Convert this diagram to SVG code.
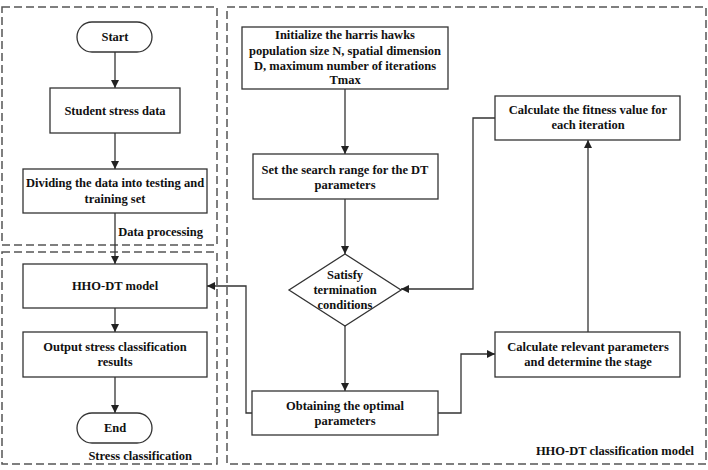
<svg xmlns="http://www.w3.org/2000/svg" width="708" height="470" viewBox="0 0 708 470">
<defs>
<marker id="ah" viewBox="0 0 10 10" refX="10" refY="5" markerWidth="8" markerHeight="8" markerUnits="userSpaceOnUse" orient="auto">
<path d="M0,0 L10,5 L0,10 Z" fill="#222"/>
</marker>
<style>
.frame{fill:none;stroke:#555;stroke-width:1.5;stroke-dasharray:8,4}
.box{fill:#fff;stroke:#333;stroke-width:1.3}
.t{font-family:"Liberation Serif","Times New Roman",serif;font-weight:bold;font-size:12.5px;fill:#111;text-anchor:middle}
.lbl{font-family:"Liberation Serif","Times New Roman",serif;font-weight:bold;font-size:12.5px;fill:#111;text-anchor:end}
.c{fill:none;stroke:#333;stroke-width:1.3}
.ca{fill:none;stroke:#333;stroke-width:1.3;marker-end:url(#ah)}
</style>
</defs>
<rect width="708" height="470" fill="#fff"/>
<g id="frames">
<rect class="frame" x="2" y="7" width="215" height="238"/>
<text class="lbl" x="203" y="236">Data processing</text>
<rect class="frame" x="2" y="252" width="215" height="212"/>
<text class="lbl" x="192" y="460">Stress classification</text>
<rect class="frame" x="227" y="7" width="479" height="457"/>
<text class="lbl" x="694" y="455">HHO-DT classification model</text>
</g>
<g id="connectors">
<line class="ca" x1="115" y1="52" x2="115" y2="88"/>
<line class="ca" x1="115" y1="133" x2="115" y2="169"/>
<line class="ca" x1="115" y1="213" x2="115" y2="264"/>
<line class="ca" x1="115" y1="308" x2="115" y2="332"/>
<line class="ca" x1="115" y1="377" x2="115" y2="413"/>
<line class="ca" x1="345" y1="89" x2="345" y2="154"/>
<line class="ca" x1="345" y1="199" x2="345" y2="254"/>
<line class="ca" x1="345" y1="326" x2="345" y2="391"/>
<polyline class="ca" points="252,413 246,413 246,286 207,286"/>
<polyline class="ca" points="438,413 461,413 461,354 495,354"/>
<line class="ca" x1="588" y1="332" x2="588" y2="140"/>
<polyline class="ca" points="495,118 473,118 473,289 401,289"/>
</g>
<g id="start">
<rect class="box" x="77" y="22" width="75" height="30" rx="15"/>
<text class="t" x="115" y="41">Start</text>
</g>
<g id="student-data">
<rect class="box" x="50" y="88" width="130" height="45"/>
<text class="t" x="115" y="115">Student stress data</text>
</g>
<g id="dividing">
<rect class="box" x="23" y="169" width="184" height="44"/>
<text class="t" x="115" y="187">Dividing the data into testing and</text>
<text class="t" x="115" y="203">training set</text>
</g>
<g id="hho-dt-model">
<rect class="box" x="23" y="264" width="184" height="44"/>
<text class="t" x="115" y="290">HHO-DT model</text>
</g>
<g id="output">
<rect class="box" x="23" y="332" width="184" height="45"/>
<text class="t" x="115" y="351">Output stress classification</text>
<text class="t" x="115" y="366">results</text>
</g>
<g id="end">
<rect class="box" x="77" y="413" width="75" height="30" rx="15"/>
<text class="t" x="115" y="432">End</text>
</g>
<g id="initialize">
<rect class="box" x="242" y="27" width="206" height="62"/>
<text class="t" x="345" y="39">Initialize the harris hawks</text>
<text class="t" x="345" y="55">population size N, spatial dimension</text>
<text class="t" x="345" y="70">D, maximum number of iterations</text>
<text class="t" x="345" y="84">Tmax</text>
</g>
<g id="search-range">
<rect class="box" x="253" y="154" width="185" height="45"/>
<text class="t" x="345" y="174">Set the search range for the DT</text>
<text class="t" x="345" y="189">parameters</text>
</g>
<g id="termination">
<polygon class="box" points="345,254 401,290 345,326 289,290"/>
<text class="t" x="345" y="279">Satisfy</text>
<text class="t" x="345" y="294">termination</text>
<text class="t" x="345" y="309">conditions</text>
</g>
<g id="optimal">
<rect class="box" x="252" y="391" width="186" height="44"/>
<text class="t" x="345" y="410">Obtaining the optimal</text>
<text class="t" x="345" y="425">parameters</text>
</g>
<g id="relevant">
<rect class="box" x="495" y="332" width="185" height="45"/>
<text class="t" x="588" y="351">Calculate relevant parameters</text>
<text class="t" x="588" y="366">and determine the stage</text>
</g>
<g id="fitness">
<rect class="box" x="495" y="96" width="185" height="44"/>
<text class="t" x="588" y="114">Calculate the fitness value for</text>
<text class="t" x="588" y="129">each iteration</text>
</g>
</svg>
